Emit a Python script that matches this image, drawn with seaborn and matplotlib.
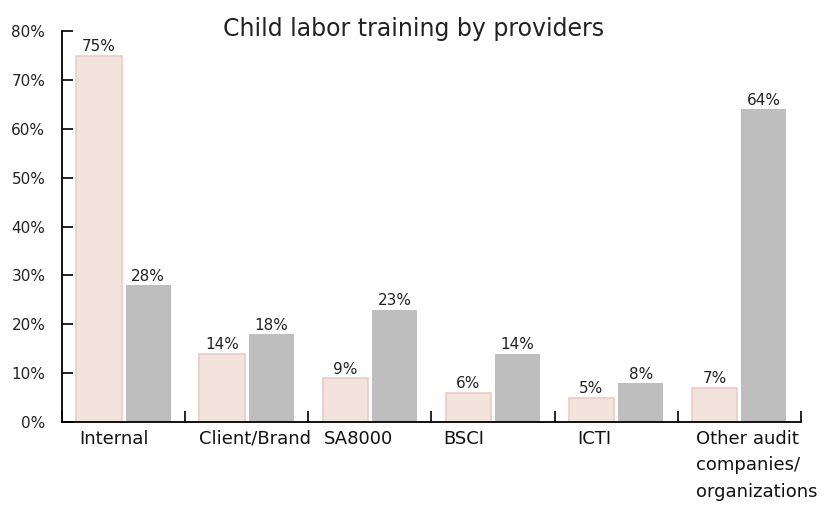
import pandas as pd
import matplotlib.pyplot as plt
import matplotlib.transforms as mtransforms
import seaborn as sns

# data
providers = ['Internal', 'Client/Brand', 'SA8000', 'BSCI', 'ICTI',
             'Other audit\ncompanies/\norganizations']
series_a = [75, 14, 9, 6, 5, 7]
series_b = [28, 18, 23, 14, 8, 64]
series_names = ['Series A', 'Series B']

# category label nudges (category units) to mimic the hand-placed labels
label_shift = [-0.08, 0.07, -0.09, -0.24, -0.18, -0.35]
label_align = ['center', 'center', 'center', 'center', 'center', 'left']

df = pd.DataFrame({
    'provider': providers * 2,
    'series': [series_names[0]] * len(providers) + [series_names[1]] * len(providers),
    'value': series_a + series_b,
})

sns.set_style('white')
plt.rcParams['font.family'] = ['DejaVu Sans']

fig = plt.figure(figsize=(8.35, 5.2), dpi=100)
ax = fig.add_axes([0.0743, 0.1885, 0.8847, 0.7515])

sns.barplot(data=df, x='provider', y='value', hue='series', ax=ax,
            palette=['#F3E3DD', '#BEBEBE'], gap=0.08, legend=False,
            saturation=1)

# pink bars have a slightly darker outline, grey ones none
for patch in ax.containers[0]:
    patch.set_edgecolor('#EACDC5')
    patch.set_linewidth(1.2)
for patch in ax.containers[1]:
    patch.set_edgecolor('none')

for cont in ax.containers:
    ax.bar_label(cont, fmt='%d%%', fontsize=11, color='#222222', padding=1)

ax.set_ylim(0, 80)
ax.set_xlim(-0.5, len(providers) - 0.5)
ax.set_yticks(range(0, 81, 10))
ax.set_yticklabels([f'{v}%' for v in range(0, 81, 10)], fontsize=11, color='#222222')
ax.tick_params(axis='y', left=True, direction='in', length=8, width=1.2,
               color='black', pad=12)

# x ticks at the category boundaries, labels drawn separately
ax.set_xticks([i - 0.5 for i in range(len(providers) + 1)])
ax.set_xticklabels([])
ax.tick_params(axis='x', bottom=True, direction='in', length=8, width=1.2,
               color='black')
ax.set_xlabel('')
ax.set_ylabel('')

trans = mtransforms.blended_transform_factory(ax.transData, ax.transAxes)
for i, name in enumerate(providers):
    ax.text(i + label_shift[i], -0.02, name, transform=trans, ha=label_align[i],
            va='top', fontsize=13, color='#111111', linespacing=1.6)

sns.despine(ax=ax)
for side in ['left', 'bottom']:
    ax.spines[side].set_color('black')
    ax.spines[side].set_linewidth(1.3)

fig.text(0.495, 0.945, 'Child labor training by providers', ha='center',
         va='center', fontsize=17, color='#222222')

fig.savefig('out.png', dpi=100)
